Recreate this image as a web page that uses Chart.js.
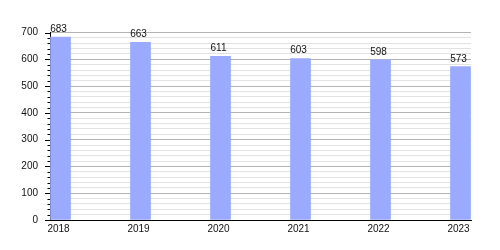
<!DOCTYPE html>
<html>
<head>
<meta charset="utf-8">
<script src="https://cdn.jsdelivr.net/npm/chart.js@4"></script>
<style>
  html, body { margin: 0; padding: 0; background: #fff; }
  #box { width: 500px; height: 250px; }
</style>
</head>
<body>
<div id="box"><canvas id="grafico"></canvas></div>
<script>
var anos = [2018, 2019, 2020, 2021, 2022, 2023];
var valores = [683, 663, 611, 603, 598, 573];
var rotulosY = [0, 100, 200, 300, 400, 500, 600, 700];

var fonte = { family: "'Liberation Sans', Arial, sans-serif", size: 10 };

// marcas do eixo y: maiores a cada 100, menores a cada 20
var marcasEixo = {
	id: 'marcasEixo',
	afterDraw: function(chart) {
		var ctx = chart.ctx;
		var y = chart.scales.y;
		ctx.save();
		ctx.strokeStyle = '#000';
		ctx.lineWidth = 1;
		y.ticks.forEach(function(t) {
			var py = Math.round(y.getPixelForValue(t.value)) + 0.5;
			var len = rotulosY.indexOf(t.value) >= 0 ? 5 : 2.5;
			ctx.beginPath();
			ctx.moveTo(y.right - len, py);
			ctx.lineTo(y.right, py);
			ctx.stroke();
		});
		ctx.restore();
	}
};

// valores acima das barras
var rotulosBarras = {
	id: 'rotulosBarras',
	afterDatasetsDraw: function(chart) {
		var ctx = chart.ctx;
		var meta = chart.getDatasetMeta(0);
		ctx.save();
		ctx.fillStyle = '#111';
		ctx.font = '10px ' + fonte.family;
		ctx.textAlign = 'center';
		ctx.textBaseline = 'alphabetic';
		meta.data.forEach(function(bar, i) {
			ctx.fillText(String(valores[i]), bar.x - 2, bar.y - 5);
		});
		ctx.restore();
	}
};

new Chart(document.getElementById('grafico').getContext('2d'), {
	type: 'bar',
	data: {
		datasets: [{
			data: anos.map(function(a, i) { return { x: a, y: valores[i] }; }),
			backgroundColor: '#99aaff',
			borderWidth: 0,
			barThickness: 20
		}]
	},
	options: {
		responsive: true,
		maintainAspectRatio: false,
		animation: false,
		layout: { padding: { top: 32.5, right: 29, left: 0, bottom: 0 } },
		plugins: {
			legend: { display: false },
			tooltip: { enabled: false }
		},
		scales: {
			x: {
				type: 'linear',
				offset: false,
				min: 2017.86875,
				max: 2023.13125,
				grid: { display: false, drawTicks: false },
				border: { color: '#000', width: 1 },
				afterBuildTicks: function(scale) {
					scale.ticks = anos.map(function(a) { return { value: a }; });
				},
				afterFit: function(scale) { scale.height = 30; },
				ticks: {
					color: '#111',
					font: fonte,
					padding: 3,
					labelOffset: -2,
					autoSkip: false,
					maxRotation: 0,
					callback: function(v) { return String(v); }
				}
			},
			y: {
				min: 0,
				max: 700,
				grid: {
					drawTicks: false,
					color: function(c) {
						return c.tick && c.tick.value % 100 === 0 ? '#b4b4b4' : '#e2e2e2';
					}
				},
				border: { color: '#000', width: 1 },
				afterFit: function(scale) { scale.width = 50; },
				ticks: {
					stepSize: 20,
					autoSkip: false,
					color: '#111',
					font: fonte,
					padding: 12,
					callback: function(v) { return rotulosY.indexOf(v) >= 0 ? String(v) : ''; }
				}
			}
		}
	},
	plugins: [marcasEixo, rotulosBarras]
});
</script>
</body>
</html>
